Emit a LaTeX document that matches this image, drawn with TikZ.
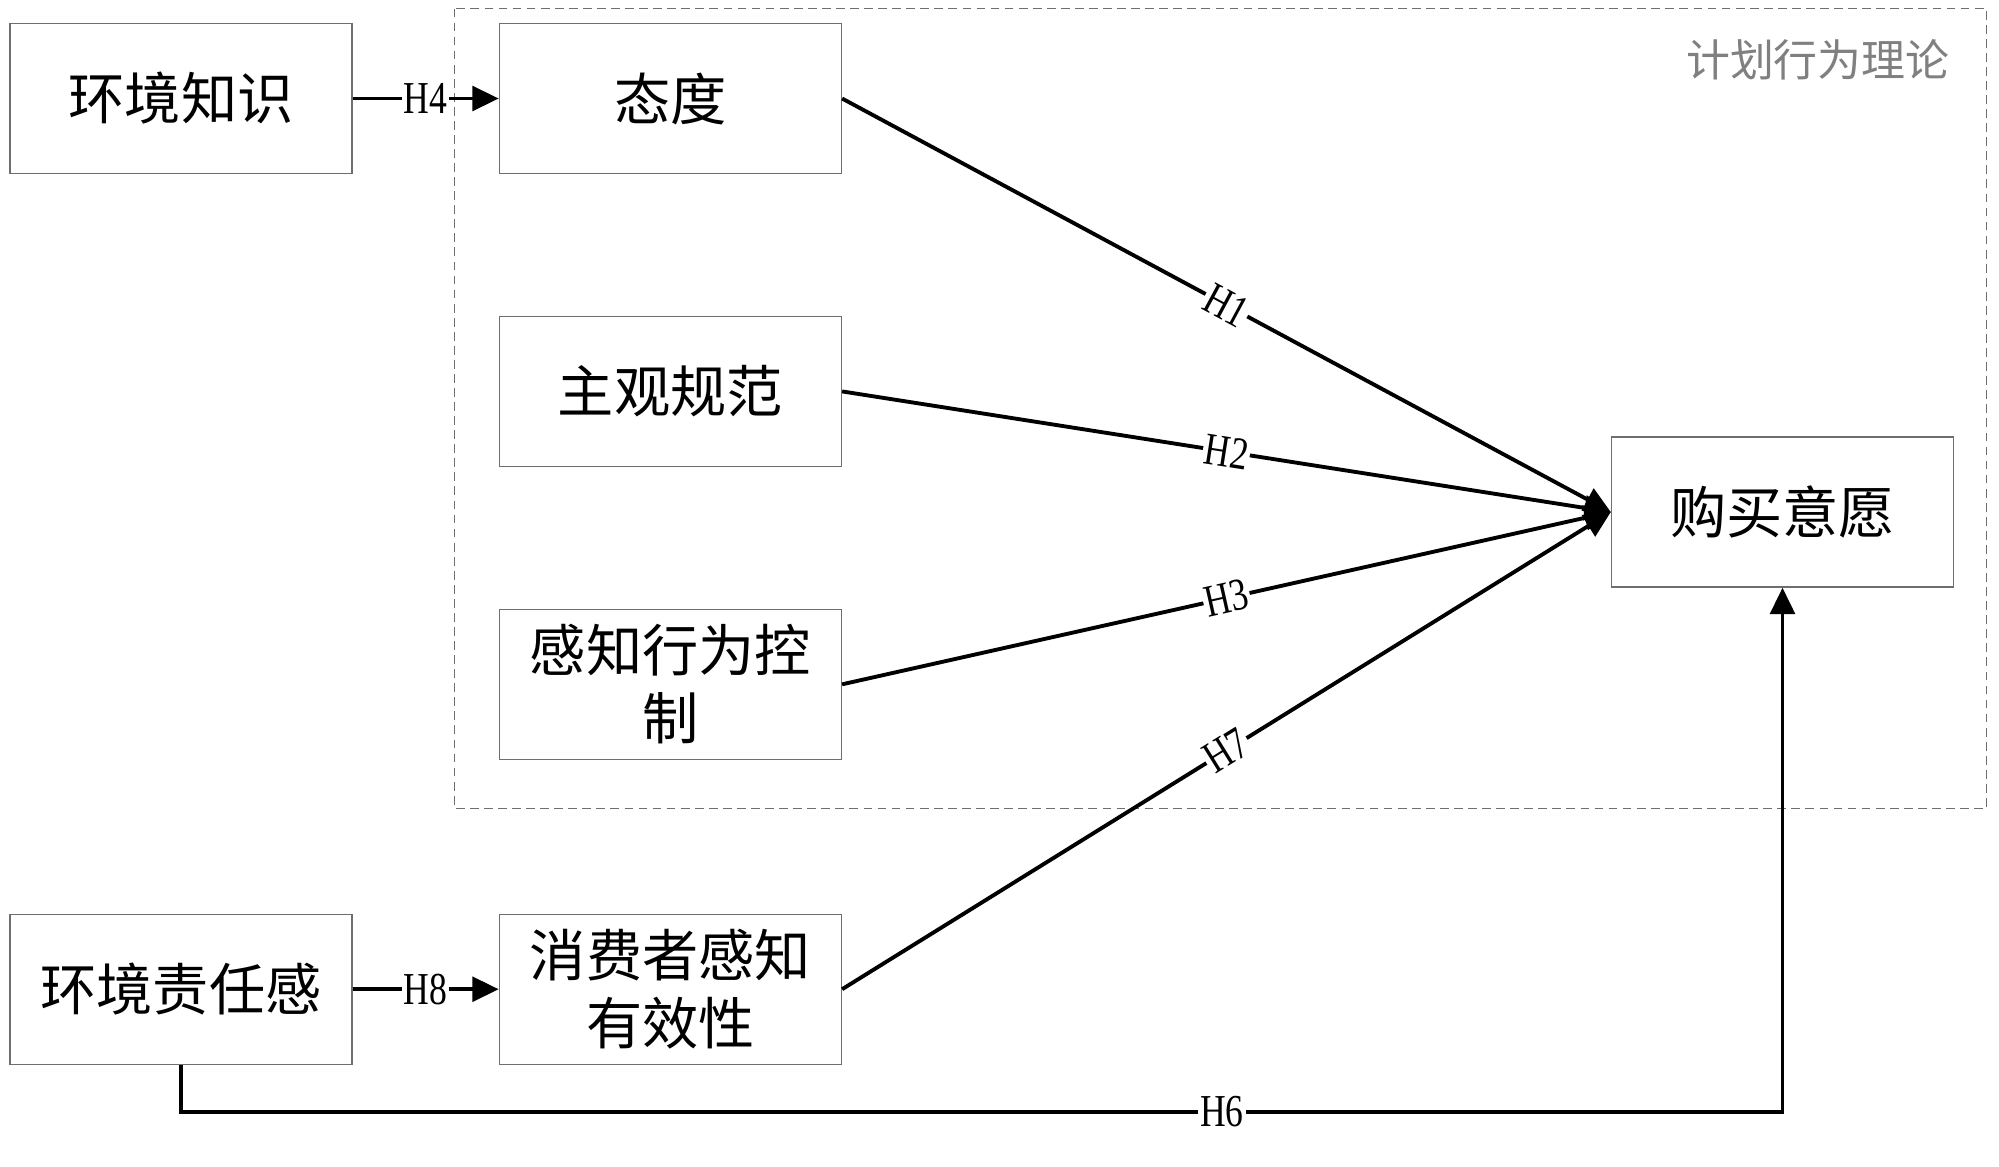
\documentclass[tikz,border=0pt]{standalone}
\usepackage{fontspec}
\setmainfont{Noto Sans CJK SC}
\newfontfamily\hfont[FakeStretch=0.78]{Liberation Serif}
\usetikzlibrary{positioning,arrows.meta}
\definecolor{boxgray}{RGB}{110,110,110}
\definecolor{titlegray}{RGB}{128,128,128}
\tikzstyle{box} = [draw=boxgray, line width=0.8pt, minimum width=6.84cm, minimum height=3cm, align=center, font=\fontsize{32}{38.5}\selectfont]
\tikzstyle{arrow} = [line width=2.2pt, -{Triangle[length=15pt,width=14pt]}]
\tikzstyle{hyp} = [fill=white, inner sep=1pt, font=\hfont\fontsize{26}{26}\selectfont]

\begin{document}
\begin{tikzpicture}
    \useasboundingbox (0,0) rectangle (39.98,-23.32);

    % Theory frame
    \draw[boxgray, line width=0.6pt, dash pattern=on 5pt off 3pt] (9.09,-0.17) rectangle (39.73,-16.17);
    \node[anchor=east, inner sep=0pt, text=titlegray, font=\fontsize{25}{25}\selectfont] (tpbtitle) at (39.0,-1.2) {计划行为理论};

    % Constructs
    \node[box] (know) at (3.62,-1.97) {环境知识};
    \node[box, right=2.92cm of know] (att) {态度};
    \node[box, below=2.83cm of att] (norm) {主观规范};
    \node[box, below=2.83cm of norm] (pbc) {感知行为控\\制};
    \node[box, below=3.07cm of pbc] (eff) {消费者感知\\有效性};
    \node[box, left=2.92cm of eff] (resp) {环境责任感};
    \node[box] (intent) at (35.65,-10.24) {购买意愿};

    % Hypotheses
    \draw[arrow] (know) -- node[hyp] {H4} (att);
    \draw[arrow] (resp) -- node[hyp] {H8} (eff);
    \foreach \src/\lab in {att/H1, norm/H2, pbc/H3, eff/H7} {
        \draw[arrow] (\src.east) -- node[hyp, sloped] {\lab} (intent.west);
    }
    \coordinate (h6turn) at ([yshift=-0.94cm]resp.south);
    \draw[arrow] (resp.south) -- (h6turn) -- node[hyp, pos=0.65] {H6} (h6turn -| intent.south) -- (intent.south);
\end{tikzpicture}
\end{document}
